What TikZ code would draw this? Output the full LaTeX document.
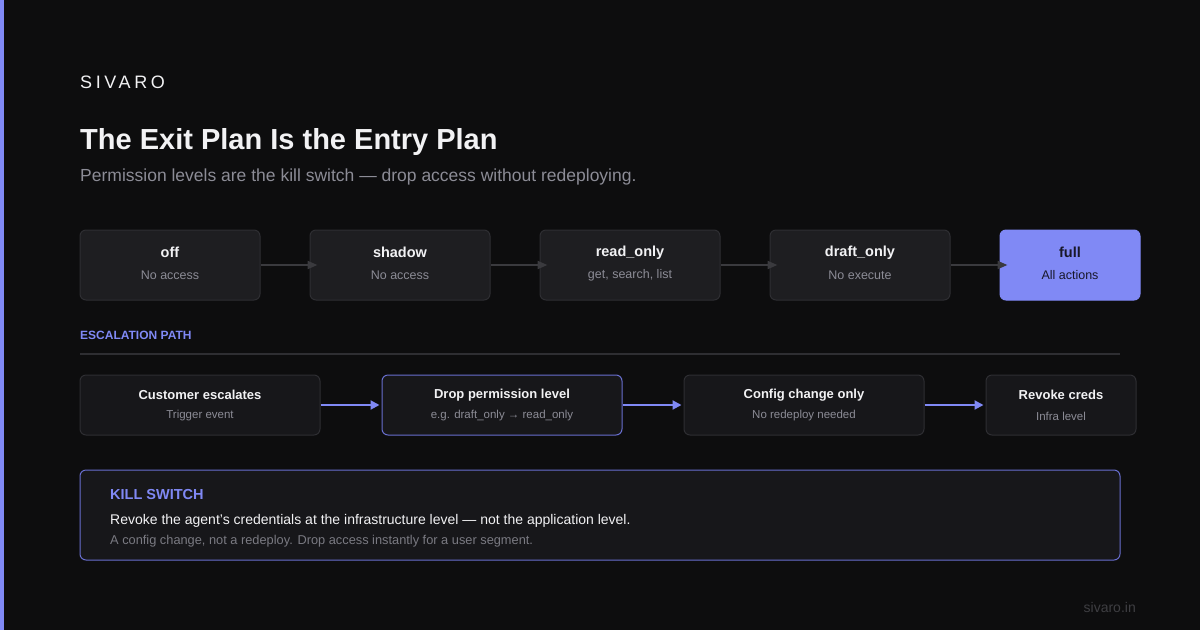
\documentclass[tikz,border=0pt]{standalone}
\usepackage{fontspec}
\setmainfont{Liberation Sans}
\usetikzlibrary{arrows.meta,positioning}
\definecolor{bgcol}{RGB}{13,13,14}
\definecolor{accent}{RGB}{128,137,245}
\definecolor{accentline}{RGB}{104,110,206}
\definecolor{boxfill}{RGB}{30,30,33}
\definecolor{boxline}{RGB}{46,46,50}
\definecolor{pathfill}{RGB}{23,23,26}
\definecolor{subgray}{RGB}{140,140,150}
\definecolor{notegray}{RGB}{122,122,130}
\definecolor{arrowgray}{RGB}{58,58,62}
\definecolor{titlewhite}{RGB}{242,242,244}
\definecolor{darkink}{RGB}{24,24,42}
\definecolor{footgray}{RGB}{62,62,66}
\newcommand{\px}[1]{\fontsize{#1}{#1}\selectfont}

\begin{document}
\begin{tikzpicture}[x=1pt,y=-1pt]%
    \fill[bgcol] (0,0) rectangle (1200,630); %%
    \fill[accent] (0,0) rectangle (4,630); %%
    \useasboundingbox (0,0) rectangle (1200,630); %%
    % header
    \node[anchor=base west,inner sep=0,text=titlewhite] (logo) at (80,88) {\px{18}\addfontfeatures{LetterSpace=20}SIVARO}; %%
    \node[anchor=base west,inner sep=0,text=titlewhite] (title) at (80,149) {\px{29}\bfseries The Exit Plan Is the Entry Plan}; %%
    \node[anchor=west,inner sep=0,text=subgray] (subtitle) at (80,176.5) {\px{17.5}Permission levels are the kill switch — drop access without redeploying.}; %%
    % permission levels
    \begin{scope}
        \tikzstyle{every node}=[draw=boxline,fill=boxfill,line width=1pt,rounded corners=6pt,minimum width=180pt,minimum height=70pt];%%
        \node (off) at (170,265) {}; %%
        \node (shadow) at (400,265) {}; %%
        \node (readonly) at (630,265) {}; %%
        \node (draftonly) at (860,265) {}; %%
        \node[fill=accent,draw=accent,minimum width=140pt] (full) at (1070,265) {}; %%
    \end{scope}
    \begin{scope}
        \tikzstyle{every node}=[text=titlewhite,font=\px{14.5}\bfseries];%%
        \node (offT) at (170,252.5) {off}; %%
        \node (shadowT) at (400,252.5) {shadow}; %%
        \node (readonlyT) at (630,252.5) {read\_only}; %%
        \node (draftonlyT) at (860,252.5) {draft\_only}; %%
        \node[text=darkink] (fullT) at (1070,252.5) {full}; %%
    \end{scope}
    \begin{scope}
        \tikzstyle{every node}=[text=subgray,font=\px{12.5}];%%
        \node (offS) at (170,275.5) {No access}; %%
        \node (shadowS) at (400,275.5) {No access}; %%
        \node (readonlyS) at (630,275.5) {get, search, list}; %%
        \node (draftonlyS) at (860,275.5) {No execute}; %%
        \node[text=darkink] (fullS) at (1070,275.5) {All actions}; %%
    \end{scope}
    \tikzstyle{lvlarrow}=[draw=arrowgray,line width=2pt,-{Triangle[length=10pt,width=8pt]},shorten >=-8pt]
    \draw[lvlarrow] (off) -- (shadow); %%
    \draw[lvlarrow] (shadow) -- (readonly); %%
    \draw[lvlarrow] (readonly) -- (draftonly); %%
    \draw[lvlarrow] (draftonly) -- (full); %%
    % escalation path
    \node[anchor=west,inner sep=0,text=accent] (esclabel) at (80,335) {\px{12}\bfseries ESCALATION PATH}; %%
    \draw[boxline,line width=1.5pt] (80,354) -- (1120,354); %%
    \begin{scope}
        \tikzstyle{every node}=[draw=boxline,fill=pathfill,line width=1pt,rounded corners=6pt,minimum width=240pt,minimum height=60pt];%%
        \node (customer) at (200,405) {}; %%
        \node[draw=accentline] (drop) at (502,405) {}; %%
        \node (config) at (804,405) {}; %%
        \node[minimum width=150pt] (revoke) at (1061,405) {}; %%
    \end{scope}
    \begin{scope}
        \tikzstyle{every node}=[text=titlewhite,font=\px{13}\bfseries];%%
        \node (customerT) at (200,395) {Customer escalates}; %%
        \node (dropT) at (502,395) {Drop permission level}; %%
        \node (configT) at (804,395) {Config change only}; %%
        \node (revokeT) at (1061,395) {Revoke creds}; %%
    \end{scope}
    \begin{scope}
        \tikzstyle{every node}=[text=subgray,font=\px{11.5}];%%
        \node (customerS) at (200,416) {Trigger event}; %%
        \node (dropS) at (502,416) {e.g. draft\_only → read\_only}; %%
        \node (configS) at (804,416) {No redeploy needed}; %%
        \node (revokeS) at (1061,416) {Infra level}; %%
    \end{scope}
    \tikzstyle{patharrow}=[draw=accent,line width=2pt,-{Triangle[length=9pt,width=9pt]},shorten >=2pt]
    \draw[patharrow] (customer) -- (drop); %%
    \draw[patharrow] (drop) -- (config); %%
    \draw[patharrow] (config) -- (revoke); %%
    % kill switch
    \node[draw=accentline,fill=pathfill,line width=1pt,rounded corners=6pt,minimum width=1040pt,minimum height=90pt] (kill) at (600,515) {}; %%
    \node[anchor=west,inner sep=0,text=accent] (killT) at (110,494) {\px{14.5}\bfseries KILL SWITCH}; %%
    \node[anchor=west,inner sep=0,text=titlewhite] (killA) at (110,521) {\px{14}Revoke the agent's credentials at the infrastructure level — not the application level.}; %%
    \node[anchor=west,inner sep=0,text=notegray] (killB) at (110,541) {\px{12.8}A config change, not a redeploy. Drop access instantly for a user segment.}; %%
    % footer
    \node[anchor=east,inner sep=0,text=footgray] (site) at (1136,607) {\px{14}sivaro.in}; %%
\end{tikzpicture}
\end{document}
